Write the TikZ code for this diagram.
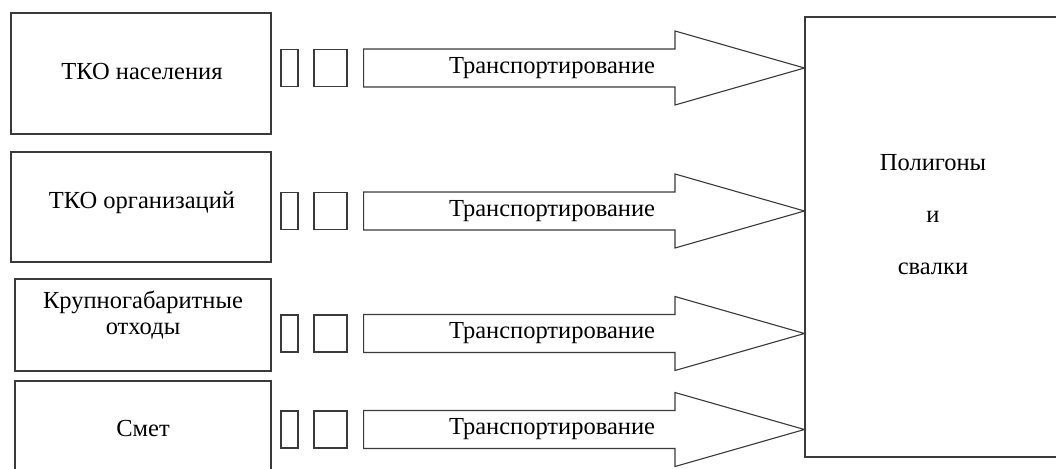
\documentclass[tikz,border=0pt]{standalone}
\usepackage{fontspec}
\setmainfont{Liberation Serif}
\usetikzlibrary{calc}
\definecolor{ln}{HTML}{3A3A3A}
\tikzset{
  box/.style={draw=ln, line width=1.1pt, inner sep=0pt, fill=white},
  txt/.style={font=\fontsize{24.5}{26}\selectfont, align=center, inner sep=0pt, text=black},
  bigarrow/.style={draw=ln, line width=1.1pt, line join=miter, fill=white}
}
\begin{document}
\begin{tikzpicture}[x=1pt,y=-1pt]
\useasboundingbox (0,0) rectangle (1056,468);
\begin{scope}
\clip (0,0) rectangle (1056,468);
% left boxes
\node[box, minimum width=260pt, minimum height=121pt] (b1) at (141,73.5) {};
\node[box, minimum width=260pt, minimum height=110pt] (b2) at (141,207) {};
\node[box, minimum width=256pt, minimum height=92pt] (b3) at (143,325) {};
\node[box, minimum width=256pt, minimum height=97pt] (b4) at (143,429.5) {};
\node[txt] (t1) at (142,72) {ТКО населения};
\node[txt] (t2) at (142,203) {ТКО организаций};
\node[txt] (t3) at (143,315) {Крупногабаритные\\отходы};
\node[txt] (t4) at (143,429) {Смет};
% big box
\node[box, minimum width=256pt, minimum height=440pt] (pb) at (933,237) {};
\node[txt, font=\fontsize{24.5}{52}\selectfont] (pt) at (933,215) {Полигоны\\и\\свалки};
% rows
\foreach \i/\y in {1/68,2/211,3/333.5,4/429.5}{
  \node[box, minimum width=17pt, minimum height=37pt] (n\i) at (289.5,\y) {};
  \node[box, minimum width=33pt, minimum height=37pt] (s\i) at (330.5,\y) {};
  \coordinate (a\i) at ($(s\i.east)+(16,0)$);
  \coordinate (tip\i) at (pb.west |- s\i.east);
  \draw[bigarrow] ($(a\i)+(0,-19)$) -- (675,\y-19) -- (675,\y-37) -- (tip\i)
     -- (675,\y+37) -- (675,\y+19) -- ($(a\i)+(0,19)$) -- cycle;
  \node[txt] (tr\i) at (552,\y) {Транспортирование};
}
\end{scope}
\end{tikzpicture}
\end{document}
